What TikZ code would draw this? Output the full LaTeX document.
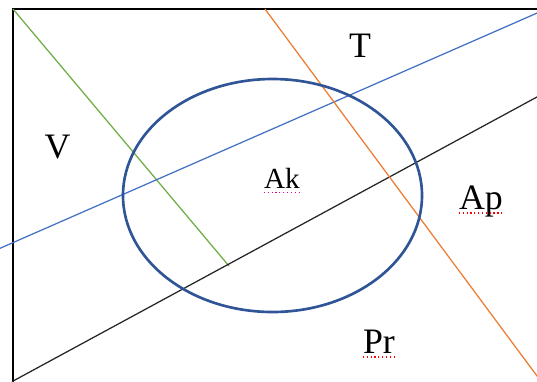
\documentclass[tikz,border=0pt]{standalone}
\usepackage{fontspec}
\setmainfont{Liberation Serif}
\usetikzlibrary{positioning, calc}

\definecolor{linegreen}{RGB}{112,173,71}
\definecolor{lineblue}{RGB}{68,114,196}
\definecolor{lineorange}{RGB}{237,125,49}
\definecolor{ringblue}{RGB}{47,85,151}

\begin{document}
\begin{tikzpicture}[
  x=0.0265cm, y=-0.0265cm,
  region/.style={anchor=base, inner sep=0pt, font=\fontsize{27}{30}\selectfont},
  innerlabel/.style={anchor=base, inner sep=0pt, font=\fontsize{22}{26}\selectfont},
  divider/.style={line width=0.95pt},
  squiggle/.style={red, dotted, line width=0.9pt}
]
  \useasboundingbox (0,0) rectangle (537,381);
  \clip (0,0) rectangle (537,381);

  % Rahmen
  \draw [line width=2pt] (13,9) rectangle (560,400);

  % Endpunkte der Geraden
  \coordinate (g1) at (13,9);
  \coordinate (g2) at (229,266);
  \coordinate (b1) at (0,248.3);
  \coordinate (b2) at (560,3);
  \coordinate (k1) at (12,381.6);
  \coordinate (k2) at (560,84.5);
  \coordinate (o1) at (265,9);
  \coordinate (o2) at (560,407);

  % Geraden
  \draw [divider, linegreen] (g1) -- (g2);
  \draw [divider, lineblue] (b1) -- (b2);
  \draw [divider, black!85] (k1) -- (k2);
  \draw [divider, lineorange] (o1) -- (o2);

  % Ellipse
  \draw [ringblue, line width=2pt] (272.5,195.5) ellipse [x radius=149.5, y radius=116.5];

  % Beschriftungen
  \node (labT)  [region] at (360,57)  {T};
  \node (labV)  [region] at (57.5,158) {V};
  \node (labAk) [innerlabel] at (282,188) {Ak};
  \node (labAp) [region] at (481,209) {Ap};
  \node (labPr) [region] at (379,353) {Pr};

  % Unterstreichungen
  \draw [squiggle, magenta] ([yshift=-3.5pt]labAk.base west) -- ([yshift=-3.5pt]labAk.base east);
  \draw [squiggle] ([yshift=-3pt]labAp.base west) -- ([yshift=-3pt]labAp.base east);
  \draw [squiggle] ([yshift=-3pt]labPr.base west) -- ([yshift=-3pt]labPr.base east);

\end{tikzpicture}
\end{document}
